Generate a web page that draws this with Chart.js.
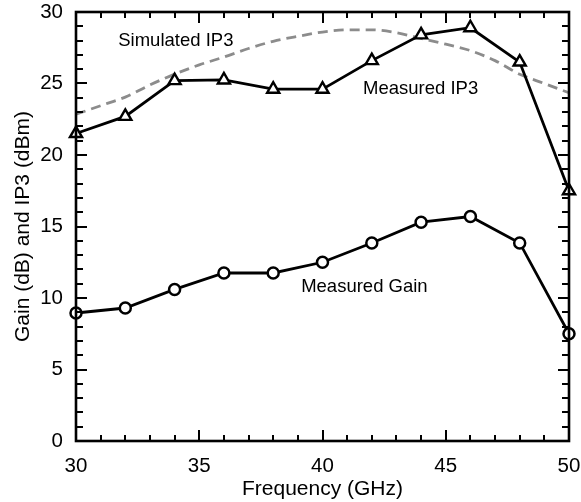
<!DOCTYPE html>
<html>
<head>
<meta charset="utf-8">
<script src="https://cdn.jsdelivr.net/npm/chart.js@4/dist/chart.umd.min.js"></script>
<style>
  html, body { margin: 0; padding: 0; background: #fff; }
  #wrap { width: 581px; height: 502px; }
</style>
</head>
<body>
<div id="wrap"><canvas id="c" width="581" height="502"></canvas></div>
<script>
// ---- data ----
const measuredFreq = [30, 32, 34, 36, 38, 40, 42, 44, 46, 48, 50];
const measuredIP3 = [21.5, 22.7, 25.2, 25.25, 24.6, 24.6, 26.6, 28.4, 28.9, 26.5, 17.5];
const measuredGain = [8.95, 9.3, 10.6, 11.75, 11.75, 12.5, 13.85, 15.3, 15.7, 13.85, 7.5];
const simulatedFreq = [30, 31, 32, 33, 34, 35, 36, 37, 38, 39, 40, 41, 42, 43, 44, 45, 46, 47, 48, 49, 50];
const simulatedIP3 = [22.85, 23.45, 24.05, 24.9, 25.65, 26.3, 26.85, 27.45, 27.95, 28.3, 28.6, 28.75, 28.75, 28.55, 28.15, 27.75, 27.3, 26.6, 25.65, 25.0, 24.35];
const xTickValues = [30, 35, 40, 45, 50];
const yTickValues = [0, 5, 10, 15, 20, 25, 30];
const xTitle = 'Frequency (GHz)';
const yTitle = 'Gain (dB) and IP3 (dBm)';
const curveLabels = [
  { text: 'Simulated IP3', x: 34.05, y: 27.95 },
  { text: 'Measured IP3', x: 43.98, y: 24.6 },
  { text: 'Measured Gain', x: 41.7, y: 10.8 }
];

const FONT = "'Liberation Sans', Arial, Helvetica, sans-serif";

function pairs(xs, ys) { return xs.map((x, i) => ({ x: x, y: ys[i] })); }

const framePlugin = {
  id: 'frameTicks',
  afterDatasetsDraw(chart) {
    const ctx = chart.ctx;
    const a = chart.chartArea;
    const xs = chart.scales.x, ys = chart.scales.y;
    ctx.save();
    ctx.strokeStyle = '#000';
    ctx.lineWidth = 2;
    ctx.beginPath();
    for (let v = xs.min; v <= xs.max; v += 1) {
      const px = Math.round(xs.getPixelForValue(v));
      const len = (v % 5 === 0) ? 11 : 6;
      ctx.moveTo(px, a.bottom); ctx.lineTo(px, a.bottom - len);
      ctx.moveTo(px, a.top); ctx.lineTo(px, a.top + len);
    }
    for (let v = ys.min; v <= ys.max; v += 1) {
      const py = Math.round(ys.getPixelForValue(v));
      const len = (v % 5 === 0) ? 11 : 7;
      ctx.moveTo(a.left, py); ctx.lineTo(a.left + len, py);
      ctx.moveTo(a.right, py); ctx.lineTo(a.right - len, py);
    }
    ctx.stroke();
    ctx.lineWidth = 2.6;
    ctx.strokeRect(a.left, a.top, a.right - a.left, a.bottom - a.top);
    ctx.restore();
  },
  afterDraw(chart) {
    const ctx = chart.ctx;
    const xs = chart.scales.x, ys = chart.scales.y;
    ctx.save();
    ctx.fillStyle = '#000';
    ctx.font = '18.5px ' + FONT;
    ctx.textAlign = 'center';
    ctx.textBaseline = 'middle';
    curveLabels.forEach(l => {
      ctx.fillText(l.text, xs.getPixelForValue(l.x), ys.getPixelForValue(l.y));
    });
    ctx.restore();
  }
};

new Chart(document.getElementById('c'), {
  type: 'scatter',
  data: {
    datasets: [
      {
        label: 'Simulated IP3',
        data: pairs(simulatedFreq, simulatedIP3),
        showLine: true,
        borderColor: '#8c8c8c',
        borderWidth: 2.8,
        borderDash: [10, 6],
        pointRadius: 0,
        cubicInterpolationMode: 'monotone',
        clip: false,
        order: 3
      },
      {
        label: 'Measured IP3',
        data: pairs(measuredFreq, measuredIP3),
        showLine: true,
        borderColor: '#000',
        borderWidth: 2.8,
        pointStyle: 'triangle',
        pointRadius: 7,
        pointBorderWidth: 2.4,
        pointBackgroundColor: '#fff',
        pointBorderColor: '#000',
        clip: false,
        order: 2
      },
      {
        label: 'Measured Gain',
        data: pairs(measuredFreq, measuredGain),
        showLine: true,
        borderColor: '#000',
        borderWidth: 2.8,
        pointStyle: 'circle',
        pointRadius: 5.5,
        pointBorderWidth: 2.5,
        pointBackgroundColor: '#fff',
        pointBorderColor: '#000',
        clip: false,
        order: 1
      }
    ]
  },
  options: {
    responsive: false,
    animation: false,
    devicePixelRatio: 1,
    layout: { padding: { left: 0, right: 12, top: 12, bottom: 0 } },
    plugins: {
      legend: { display: false },
      tooltip: { enabled: false }
    },
    scales: {
      x: {
        type: 'linear',
        min: 30, max: 50,
        afterBuildTicks(scale) { scale.ticks = xTickValues.map(v => ({ value: v })); },
        afterFit(scale) { scale.height = 61; scale.paddingLeft = 0; scale.paddingRight = 0; },
        grid: { display: false, drawTicks: false },
        border: { display: false },
        ticks: { color: '#000', padding: 13, font: { family: FONT, size: 20.5 }, maxRotation: 0 },
        title: { display: true, text: xTitle, color: '#000', font: { family: FONT, size: 21 }, padding: { top: 0, bottom: 0 } }
      },
      y: {
        type: 'linear',
        min: 0, max: 30,
        afterBuildTicks(scale) { scale.ticks = yTickValues.map(v => ({ value: v })); },
        afterFit(scale) { scale.width = 76; scale.paddingTop = 0; scale.paddingBottom = 0; },
        grid: { display: false, drawTicks: false },
        border: { display: false },
        ticks: { color: '#000', padding: 13, font: { family: FONT, size: 20.5 } },
        title: { display: true, text: yTitle, color: '#000', font: { family: FONT, size: 21 }, padding: { top: 11, bottom: 0 } }
      }
    }
  },
  plugins: [framePlugin]
});
</script>
</body>
</html>
